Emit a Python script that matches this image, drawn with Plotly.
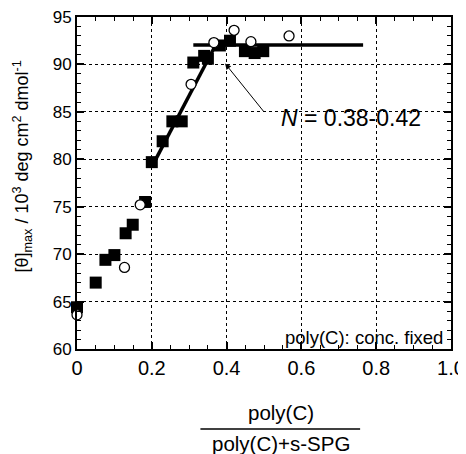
import plotly.graph_objects as go

# filled squares
sq_x = [0.0, 0.05, 0.076, 0.10, 0.13, 0.149, 0.182, 0.20, 0.229, 0.255, 0.28, 0.311, 0.34, 0.35, 0.382, 0.409, 0.449, 0.475, 0.498]
sq_y = [64.4, 67.0, 69.4, 69.9, 72.2, 73.1, 75.5, 79.7, 81.9, 84.0, 84.0, 90.2, 90.9, 90.6, 92.0, 92.5, 91.4, 91.2, 91.4]
# open circles
ci_x = [0.0, 0.127, 0.169, 0.305, 0.366, 0.42, 0.465, 0.567]
ci_y = [63.6, 68.6, 75.2, 87.9, 92.3, 93.6, 92.4, 93.0]
# fitted lines
rise_x = [0.2, 0.37]
rise_y = [79.2, 92.0]
flat_x = [0.311, 0.765]
flat_y = [92.05, 92.05]

x_ticks = [0, 0.2, 0.4, 0.6, 0.8, 1.0]
x_labels = ["0", "0.2", "0.4", "0.6", "0.8", "1.0"]
y_ticks = [60, 65, 70, 75, 80, 85, 90, 95]

FONT = "Liberation Sans, Arial, sans-serif"

fig = go.Figure()
fig.add_trace(go.Scatter(x=rise_x, y=rise_y, mode="lines",
                         line=dict(color="black", width=3.5), showlegend=False))
fig.add_trace(go.Scatter(x=flat_x, y=flat_y, mode="lines",
                         line=dict(color="black", width=3.5), showlegend=False))
fig.add_trace(go.Scatter(x=sq_x, y=sq_y, mode="markers", cliponaxis=False,
                         marker=dict(symbol="square", size=12, color="black",
                                     line=dict(width=0)), showlegend=False))
fig.add_trace(go.Scatter(x=ci_x, y=ci_y, mode="markers", cliponaxis=False,
                         marker=dict(symbol="circle", size=10, color="white",
                                     line=dict(width=1.3, color="black")), showlegend=False))

axis_common = dict(
    showline=True, linecolor="black", linewidth=2, mirror="allticks",
    ticks="inside", ticklen=7, tickwidth=1.5, tickcolor="black",
    showgrid=True, gridcolor="black", gridwidth=1, griddash="dot",
    zeroline=False, automargin=False, ticklabeloverflow="allow",
)

fig.update_xaxes(range=[0, 1.0], tickvals=x_ticks, ticktext=x_labels,
                 tickfont=dict(family=FONT, size=20, color="black"),
                 minor=dict(dtick=0.05, ticks="inside", ticklen=4, tickcolor="black", tickwidth=1, showgrid=False),
                 **axis_common)
fig.update_yaxes(range=[60, 95], tickvals=y_ticks,
                 tickfont=dict(family=FONT, size=17, color="black"),
                 minor=dict(dtick=1, ticks="inside", ticklen=4, tickcolor="black", tickwidth=1, showgrid=False),
                 **axis_common)

annotations = [
    dict(x=0.396, y=90.1, ax=0.502, ay=84.9, xref="x", yref="y", axref="x", ayref="y",
         showarrow=True, arrowhead=2, arrowsize=1.2, arrowwidth=1, arrowcolor="black", text=""),
    dict(x=0.54, y=84.4, xref="x", yref="y", xanchor="left", yanchor="middle", showarrow=False,
         text="<i>N</i> = 0.38-0.42", font=dict(family=FONT, size=23, color="black")),
    dict(x=0.985, y=61.2, xref="x", yref="y", xanchor="right", yanchor="middle", showarrow=False,
         text="poly(C): conc. fixed", font=dict(family=FONT, size=18.5, color="black")),
    dict(x=0.545, y=-0.190, xref="paper", yref="paper", xanchor="center", yanchor="middle", showarrow=False,
         text="poly(C)", font=dict(family=FONT, size=20.5, color="black")),
    dict(x=0.545, y=-0.286, xref="paper", yref="paper", xanchor="center", yanchor="middle", showarrow=False,
         text="poly(C)+s-SPG", font=dict(family=FONT, size=20.5, color="black")),
    dict(x=-0.147, y=0.55, xref="paper", yref="paper", xanchor="center", yanchor="middle", showarrow=False,
         textangle=-90,
         text="[θ]<sub>max</sub> / 10<sup>3</sup> deg cm<sup>2</sup> dmol<sup>-1</sup>",
         font=dict(family=FONT, size=18, color="black")),
]

fig.add_shape(type="line", xref="paper", yref="paper", x0=0.33, x1=0.757, y0=-0.241, y1=-0.241,
              line=dict(color="black", width=1.5))

# page body has an 8px default margin, so the figure is 8px smaller and shifted
fig.update_layout(
    width=458, height=446,
    margin=dict(l=69, r=15, t=9, b=105),
    plot_bgcolor="white", paper_bgcolor="white",
    annotations=annotations,
    showlegend=False,
)

fig.write_html("out.html")
